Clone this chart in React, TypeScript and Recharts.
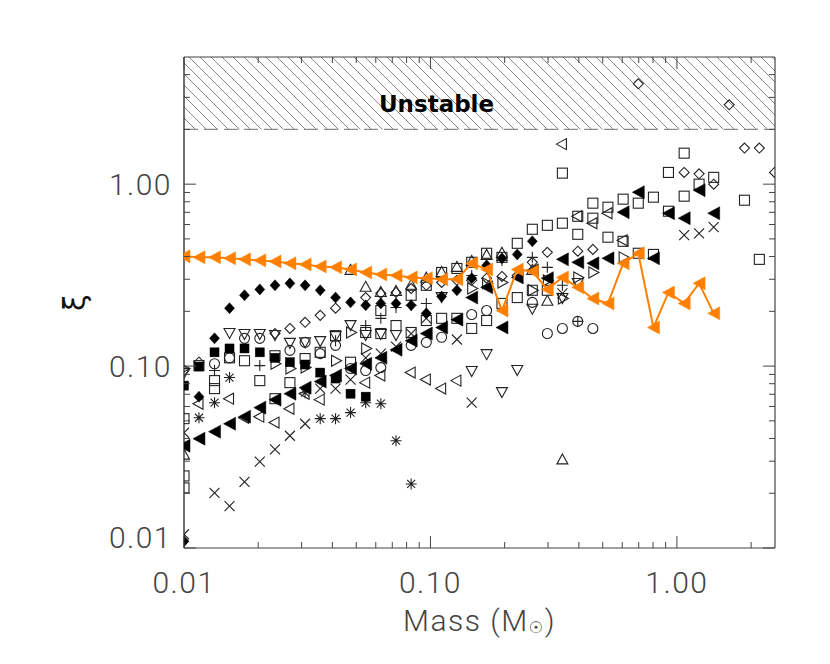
import React from 'react';
import { ScatterChart, Scatter, XAxis, YAxis, ReferenceArea, ReferenceLine, ReferenceDot } from 'recharts';

// ---------- axis ticks ----------
const xTicks = [0.01, 0.02, 0.03, 0.04, 0.05, 0.06, 0.07, 0.08, 0.09, 0.1, 0.2, 0.3, 0.4, 0.5, 0.6, 0.7, 0.8, 0.9, 1, 2];
const xMajorTicks = [0.01, 0.1, 1];
const xMajorLabels = ['0.01', '0.10', '1.00'];
const yTicks = [0.01, 0.02, 0.03, 0.04, 0.05, 0.06, 0.07, 0.08, 0.09, 0.1, 0.2, 0.3, 0.4, 0.5, 0.6, 0.7, 0.8, 0.9, 1, 2, 3, 4];
const yMajorTicks = [0.01, 0.1, 1];
const yMajorLabels = ['0.01', '0.10', '1.00'];

// ---------- data: [mass (Msun), xi] ----------
const orangeTri: number[][] = [
  [0.01, 0.401], [0.0115, 0.396], [0.0133, 0.396], [0.0153, 0.391], [0.0176, 0.386], [0.0203, 0.381],
  [0.0234, 0.376], [0.0269, 0.367], [0.031, 0.362], [0.0357, 0.353], [0.0412, 0.349], [0.0474, 0.34],
  [0.0546, 0.327], [0.0629, 0.319], [0.0725, 0.315], [0.0835, 0.307], [0.0962, 0.304], [0.111, 0.3],
  [0.128, 0.3], [0.147, 0.367], [0.169, 0.34], [0.195, 0.202], [0.225, 0.34], [0.259, 0.332],
  [0.298, 0.264], [0.343, 0.307], [0.396, 0.271], [0.456, 0.235], [0.525, 0.221], [0.605, 0.367],
  [0.697, 0.417], [0.803, 0.163], [0.924, 0.254], [1.07, 0.221], [1.23, 0.285], [1.41, 0.195],
];
const filledLeftTri: number[][] = [
  [0.01, 0.0365], [0.0115, 0.0399], [0.0133, 0.0436], [0.0153, 0.0482], [0.0176, 0.0527], [0.0203, 0.0591],
  [0.0234, 0.0654], [0.0269, 0.0705], [0.031, 0.0761], [0.0357, 0.0822], [0.0412, 0.0887], [0.0474, 0.0969],
  [0.0546, 0.103], [0.0629, 0.111], [0.0725, 0.123], [0.0835, 0.138], [0.0962, 0.151], [0.111, 0.163],
  [0.128, 0.18], [0.147, 0.238], [0.169, 0.271], [0.195, 0.163], [0.225, 0.307], [0.259, 0.336],
  [0.298, 0.304], [0.343, 0.386], [0.396, 0.372], [0.456, 0.367], [0.525, 0.391], [0.605, 0.701],
  [0.697, 0.903], [0.803, 0.391], [0.924, 0.692], [1.07, 0.65], [1.23, 0.927], [1.41, 0.692],
];
const filledDiamond: number[][] = [
  [0.01, 0.0109], [0.0115, 0.0679], [0.0133, 0.142], [0.0153, 0.208], [0.0176, 0.245], [0.0203, 0.264],
  [0.0234, 0.278], [0.0269, 0.285], [0.031, 0.278], [0.0357, 0.261], [0.0412, 0.238], [0.0474, 0.224],
  [0.0546, 0.216], [0.0629, 0.221], [0.0725, 0.221], [0.0835, 0.216], [0.0962, 0.195], [0.111, 0.241],
  [0.128, 0.261], [0.147, 0.304], [0.169, 0.358], [0.195, 0.391], [0.225, 0.411], [0.259, 0.485],
];
const openDiamond: number[][] = [
  [0.01, 0.0945], [0.0115, 0.105], [0.0234, 0.151], [0.0269, 0.161], [0.031, 0.174], [0.0357, 0.19],
  [0.0412, 0.208], [0.0546, 0.238], [0.0629, 0.251], [0.0725, 0.254], [0.0835, 0.267], [0.0962, 0.278],
  [0.111, 0.288], [0.128, 0.296], [0.147, 0.296], [0.169, 0.304], [0.195, 0.311], [0.225, 0.315],
  [0.259, 0.372], [0.298, 0.422], [0.396, 0.428], [0.456, 0.438], [0.697, 3.56], [1.07, 1.16],
  [1.23, 1.14], [1.41, 1.0], [1.63, 2.73], [1.88, 1.58], [2.16, 1.58], [2.49, 1.16],
];
const openSquare: number[][] = [
  [0.01, 0.0514], [0.01, 0.0249], [0.01, 0.0214], [0.0115, 0.1006], [0.0133, 0.0832], [0.0133, 0.0752],
  [0.0153, 0.111], [0.0176, 0.107], [0.0203, 0.0832], [0.0234, 0.114], [0.0234, 0.0662], [0.0269, 0.0811],
  [0.031, 0.11], [0.0357, 0.119], [0.0412, 0.147], [0.0474, 0.105], [0.0546, 0.153], [0.0629, 0.151],
  [0.0629, 0.202], [0.0725, 0.167], [0.0835, 0.153], [0.0835, 0.245], [0.0962, 0.178], [0.0962, 0.278],
  [0.111, 0.183], [0.111, 0.327], [0.128, 0.183], [0.128, 0.344], [0.147, 0.161], [0.147, 0.372],
  [0.169, 0.178], [0.169, 0.417], [0.195, 0.396], [0.195, 0.221], [0.225, 0.473], [0.225, 0.238],
  [0.259, 0.565], [0.259, 0.261], [0.298, 0.594], [0.298, 0.261], [0.343, 0.61], [0.343, 1.15],
  [0.396, 0.666], [0.396, 0.53], [0.456, 0.786], [0.456, 0.65], [0.525, 0.747], [0.525, 0.511],
  [0.605, 0.827], [0.605, 0.485], [0.697, 0.786], [0.697, 0.417], [0.803, 0.848], [0.803, 0.411],
  [0.924, 1.16], [0.924, 0.71], [1.07, 1.48], [1.07, 0.859], [1.23, 1.0], [1.41, 1.09],
  [1.88, 0.816], [2.16, 0.386],
];
const openTriUp: number[][] = [
  [0.01, 0.0324], [0.0474, 0.336], [0.0546, 0.271], [0.0629, 0.254], [0.0725, 0.257], [0.0835, 0.278],
  [0.0962, 0.304], [0.111, 0.327], [0.128, 0.349], [0.147, 0.376], [0.169, 0.406], [0.195, 0.417],
  [0.259, 0.336], [0.298, 0.227], [0.343, 0.0305],
];
const openTriDown: number[][] = [
  [0.01, 0.0921], [0.0153, 0.153], [0.0176, 0.151], [0.0203, 0.151], [0.0234, 0.149], [0.0269, 0.135],
  [0.031, 0.136], [0.0357, 0.138], [0.0412, 0.147], [0.0474, 0.169], [0.0546, 0.149], [0.0629, 0.151],
  [0.0725, 0.149], [0.111, 0.241], [0.147, 0.0945], [0.169, 0.117], [0.195, 0.0724], [0.225, 0.0957],
  [0.259, 0.208], [0.343, 0.238], [0.396, 0.288],
];
const openTriLeft: number[][] = [
  [0.0115, 0.0621], [0.0153, 0.0662], [0.0176, 0.052], [0.0203, 0.0527], [0.0234, 0.0489], [0.0269, 0.0583],
  [0.031, 0.0705], [0.0357, 0.0654], [0.0546, 0.0811], [0.0629, 0.0887], [0.0835, 0.0921], [0.0962, 0.0843],
  [0.111, 0.0752], [0.128, 0.0832], [0.343, 1.66], [0.396, 0.666], [0.456, 0.61], [0.525, 0.692], [0.605, 0.491],
];
const openTriRight: number[][] = [
  [0.01, 0.0969], [0.0234, 0.103], [0.0269, 0.0969], [0.031, 0.0981], [0.0412, 0.107], [0.0474, 0.153],
  [0.0546, 0.125], [0.147, 0.267], [0.169, 0.285], [0.195, 0.288], [0.259, 0.261], [0.298, 0.296],
  [0.343, 0.235], [0.396, 0.307], [0.456, 0.327], [0.605, 0.396],
];
const openCircle: number[][] = [
  [0.0133, 0.103], [0.0153, 0.111], [0.0176, 0.142], [0.0203, 0.142], [0.0269, 0.122], [0.031, 0.135],
  [0.0357, 0.117], [0.0412, 0.13], [0.0474, 0.0969], [0.0546, 0.0945], [0.0629, 0.0981], [0.0835, 0.13],
  [0.0962, 0.135], [0.111, 0.144], [0.147, 0.192], [0.169, 0.202], [0.259, 0.224], [0.298, 0.151],
  [0.343, 0.161], [0.396, 0.176], [0.456, 0.161],
];
const plusSign: number[][] = [
  [0.0133, 0.0945], [0.0203, 0.1006], [0.0412, 0.138], [0.0546, 0.167], [0.0629, 0.183], [0.0725, 0.21],
  [0.0835, 0.216], [0.0962, 0.221], [0.147, 0.315], [0.195, 0.381], [0.259, 0.396], [0.298, 0.349],
  [0.343, 0.278], [0.396, 0.176],
];
const crossSign: number[][] = [
  [0.01, 0.0119], [0.01, 0.043], [0.0133, 0.0201], [0.0153, 0.017], [0.0176, 0.0231], [0.0203, 0.0298],
  [0.0234, 0.0348], [0.0269, 0.0414], [0.031, 0.0482], [0.0357, 0.0752], [0.0412, 0.0752], [0.0474, 0.0843],
  [0.0546, 0.111], [0.0629, 0.117], [0.0725, 0.128], [0.0835, 0.151], [0.0962, 0.183], [0.128, 0.14],
  [0.147, 0.0629], [0.343, 0.251], [1.07, 0.524], [1.23, 0.537], [1.41, 0.58],
];
const asterisk: number[][] = [
  [0.0115, 0.052], [0.0133, 0.0629], [0.0153, 0.0865], [0.031, 0.0714], [0.0357, 0.0514], [0.0412, 0.0514],
  [0.0474, 0.0555], [0.0546, 0.0629], [0.0629, 0.0621], [0.0725, 0.0389], [0.0835, 0.0225],
];
const filledSquare: number[][] = [
  [0.01, 0.0781], [0.0115, 0.0994], [0.0133, 0.119], [0.0153, 0.125], [0.0176, 0.125], [0.0203, 0.119],
  [0.0234, 0.111], [0.0269, 0.105], [0.031, 0.102], [0.0357, 0.0921], [0.0412, 0.0854], [0.0474, 0.0705],
  [0.0546, 0.0679],
];

// ---------- styling ----------
const W = 830;
const H = 664;
// axes take 1px each; plot area spans x 184..775, y 57..548
const MARGIN = { top: 56, right: 54, bottom: 115, left: 183 };
const PLOT_BOTTOM = 548;
const FONT = '"DejaVu Sans", "Liberation Sans", sans-serif';
const THIN_FONT = 'Roboto, "DejaVu Sans", sans-serif';
const INK = '#222';
const AXIS = '#444';
const LABEL = '#444';
const ORANGE = '#ff8000';

const toPts = (a: number[][]) => a.map(([x, y]) => ({ x, y }));
const findMajor = (v: number, majors: number[]) => majors.findIndex((m) => Math.abs(m - v) < 1e-9);

type Kind = 'square' | 'fsquare' | 'diamond' | 'fdiamond' | 'tup' | 'tdown' | 'tleft' | 'tright' | 'ftleft' | 'orange' | 'circle' | 'plus' | 'cross' | 'star';

function Marker({ cx, cy, kind }: { cx: number; cy: number; kind: Kind }) {
  if (cx == null || cy == null || isNaN(cx) || isNaN(cy)) return null;
  const sw = 1.1;
  switch (kind) {
    case 'square':
      return <rect x={cx - 5} y={cy - 5} width={10} height={10} fill="none" stroke={INK} strokeWidth={sw} />;
    case 'fsquare':
      return <rect x={cx - 4.5} y={cy - 4.5} width={9} height={9} fill="#000" stroke="#000" strokeWidth={0.5} />;
    case 'diamond':
      return <polygon points={`${cx},${cy - 5} ${cx + 5},${cy} ${cx},${cy + 5} ${cx - 5},${cy}`} fill="none" stroke={INK} strokeWidth={sw} />;
    case 'fdiamond':
      return <polygon points={`${cx},${cy - 5.5} ${cx + 5},${cy} ${cx},${cy + 5.5} ${cx - 5},${cy}`} fill="#000" stroke="#000" strokeWidth={0.5} />;
    case 'tup':
      return <polygon points={`${cx},${cy - 6} ${cx + 5.5},${cy + 4} ${cx - 5.5},${cy + 4}`} fill="none" stroke={INK} strokeWidth={sw} />;
    case 'tdown':
      return <polygon points={`${cx},${cy + 6} ${cx + 5.5},${cy - 4} ${cx - 5.5},${cy - 4}`} fill="none" stroke={INK} strokeWidth={sw} />;
    case 'tleft':
      return <polygon points={`${cx - 6},${cy} ${cx + 4},${cy - 5.5} ${cx + 4},${cy + 5.5}`} fill="none" stroke={INK} strokeWidth={sw} />;
    case 'tright':
      return <polygon points={`${cx + 6},${cy} ${cx - 4},${cy - 5.5} ${cx - 4},${cy + 5.5}`} fill="none" stroke={INK} strokeWidth={sw} />;
    case 'ftleft':
      return <polygon points={`${cx - 6},${cy} ${cx + 6},${cy - 6.5} ${cx + 6},${cy + 6.5}`} fill="#000" stroke="#000" strokeWidth={0.5} />;
    case 'orange':
      return <polygon points={`${cx - 6},${cy} ${cx + 6},${cy - 6.5} ${cx + 6},${cy + 6.5}`} fill={ORANGE} stroke={ORANGE} strokeWidth={0.5} />;
    case 'circle':
      return <circle cx={cx} cy={cy} r={5} fill="none" stroke={INK} strokeWidth={sw} />;
    case 'plus':
      return (
        <path d={`M${cx - 5.5},${cy} L${cx + 5.5},${cy} M${cx},${cy - 5.5} L${cx},${cy + 5.5}`} stroke={INK} strokeWidth={sw} fill="none" />
      );
    case 'cross':
      return (
        <path d={`M${cx - 5},${cy - 5} L${cx + 5},${cy + 5} M${cx - 5},${cy + 5} L${cx + 5},${cy - 5}`} stroke={INK} strokeWidth={sw} fill="none" />
      );
    case 'star':
      return (
        <path
          d={`M${cx - 5.5},${cy} L${cx + 5.5},${cy} M${cx},${cy - 5.5} L${cx},${cy + 5.5} M${cx - 4},${cy - 4} L${cx + 4},${cy + 4} M${cx - 4},${cy + 4} L${cx + 4},${cy - 4}`}
          stroke={INK}
          strokeWidth={sw}
          fill="none"
        />
      );
    default:
      return null;
  }
}

const shapeOf = (kind: Kind) => (p: any) => <Marker cx={p.cx} cy={p.cy} kind={kind} />;

const labelStyle = {
  fontFamily: THIN_FONT,
  fontWeight: 300,
  fontSize: 30,
  letterSpacing: 1.5,
  fill: LABEL,
};

// ---------- ticks ----------
const BottomTick = (props: any) => {
  const { x, y, payload } = props;
  const i = findMajor(payload.value, xMajorTicks);
  const len = i >= 0 ? 12 : 6;
  return (
    <g>
      <line x1={x} y1={y} x2={x} y2={y - len} stroke={AXIS} strokeWidth={1} />
      {i >= 0 && (
        <text x={x} y={y + 34} textAnchor="middle" dominantBaseline="central" {...labelStyle}>
          {xMajorLabels[i]}
        </text>
      )}
    </g>
  );
};
const TopTick = (props: any) => {
  const { x, y, payload } = props;
  const i = findMajor(payload.value, xMajorTicks);
  const len = i >= 0 ? 12 : 6;
  return <line x1={x} y1={y} x2={x} y2={y + len} stroke={AXIS} strokeWidth={1} />;
};
const LeftTick = (props: any) => {
  const { x, y, payload } = props;
  const i = findMajor(payload.value, yMajorTicks);
  const len = i >= 0 ? 12 : 6;
  const ty = Math.min(y, PLOT_BOTTOM - 11);
  return (
    <g>
      <line x1={x} y1={y} x2={x + len} y2={y} stroke={AXIS} strokeWidth={1} />
      {i >= 0 && (
        <text x={x - 12} y={ty} textAnchor="end" dominantBaseline="central" {...labelStyle}>
          {yMajorLabels[i]}
        </text>
      )}
    </g>
  );
};
const RightTick = (props: any) => {
  const { x, y, payload } = props;
  const i = findMajor(payload.value, yMajorTicks);
  const len = i >= 0 ? 12 : 6;
  return <line x1={x} y1={y} x2={x - len} y2={y} stroke={AXIS} strokeWidth={1} />;
};

const XTitle = (props: any) => {
  const vb = props.viewBox || {};
  const cx = vb.width ? vb.x + vb.width / 2 : 479.5;
  const cy = PLOT_BOTTOM + 72;
  return (
    <text x={cx} y={cy} textAnchor="middle" dominantBaseline="central" {...labelStyle}>
      Mass (M
      <tspan fontFamily={FONT} fontWeight={400} fontSize={16} dy={7}>☉</tspan>
      <tspan dy={-7}>)</tspan>
    </text>
  );
};
const YTitle = (props: any) => {
  const vb = props.viewBox || {};
  const cx = 74;
  const cy = vb.height > 10 ? vb.y + vb.height / 2 : 302.5;
  return (
    <text x={cx} y={cy} transform={`rotate(-90 ${cx} ${cy})`} textAnchor="middle" dominantBaseline="central" fontFamily={FONT} fontSize={30} fill="#111">
      ξ
    </text>
  );
};

const UnstableText = (p: any) => (
  <text x={p.cx} y={p.cy} textAnchor="middle" dominantBaseline="central" fontFamily={FONT} fontWeight="bold" fontSize={23} fill="#000">
    Unstable
  </text>
);

const series: { name: string; data: number[][]; kind: Kind }[] = [
  { name: 'sq', data: openSquare, kind: 'square' },
  { name: 'di', data: openDiamond, kind: 'diamond' },
  { name: 'tu', data: openTriUp, kind: 'tup' },
  { name: 'td', data: openTriDown, kind: 'tdown' },
  { name: 'tl', data: openTriLeft, kind: 'tleft' },
  { name: 'tr', data: openTriRight, kind: 'tright' },
  { name: 'ci', data: openCircle, kind: 'circle' },
  { name: 'pl', data: plusSign, kind: 'plus' },
  { name: 'cr', data: crossSign, kind: 'cross' },
  { name: 'as', data: asterisk, kind: 'star' },
  { name: 'fs', data: filledSquare, kind: 'fsquare' },
  { name: 'fd', data: filledDiamond, kind: 'fdiamond' },
  { name: 'ft', data: filledLeftTri, kind: 'ftleft' },
];

export default function App() {
  return (
    <div style={{ position: 'absolute', left: 0, top: 0, width: W, height: H, background: '#fff' }}>
      <svg width={0} height={0} style={{ position: 'absolute' }}>
        <defs>
          <pattern id="hatch" patternUnits="userSpaceOnUse" width={11} height={11}>
            <path d="M0,0 L11,11 M-2,9 L2,13 M9,-2 L13,2" stroke="#8a8a8a" strokeWidth={1} fill="none" />
          </pattern>
        </defs>
      </svg>
      <ScatterChart width={W} height={H} margin={MARGIN}>
        <XAxis
          xAxisId={0}
          dataKey="x"
          type="number"
          scale="log"
          domain={[0.01, 2.5]}
          allowDataOverflow
          ticks={xTicks}
          interval={0}
          tickSize={0}
          tickMargin={0}
          tickLine={false}
          tick={<BottomTick />}
          height={1}
          axisLine={{ stroke: AXIS, strokeWidth: 1.2 }}
          label={<XTitle />}
        />
        <XAxis
          xAxisId="top"
          orientation="top"
          dataKey="x"
          type="number"
          scale="log"
          domain={[0.01, 2.5]}
          allowDataOverflow
          ticks={xTicks}
          interval={0}
          tickSize={0}
          tickMargin={0}
          tickLine={false}
          tick={<TopTick />}
          height={1}
          axisLine={{ stroke: AXIS, strokeWidth: 1.2 }}
        />
        <YAxis
          yAxisId={0}
          dataKey="y"
          type="number"
          scale="log"
          domain={[0.01, 5]}
          allowDataOverflow
          ticks={yTicks}
          interval={0}
          tickSize={0}
          tickMargin={0}
          tickLine={false}
          tick={<LeftTick />}
          width={1}
          axisLine={{ stroke: '#111', strokeWidth: 1.2 }}
          label={<YTitle />}
        />
        <YAxis
          yAxisId="right"
          orientation="right"
          dataKey="y"
          type="number"
          scale="log"
          domain={[0.01, 5]}
          allowDataOverflow
          ticks={yTicks}
          interval={0}
          tickSize={0}
          tickMargin={0}
          tickLine={false}
          tick={<RightTick />}
          width={1}
          axisLine={{ stroke: AXIS, strokeWidth: 1.2 }}
        />
        <ReferenceArea y1={2} y2={5} fill="url(#hatch)" fillOpacity={1} stroke="none" ifOverflow="hidden" />
        <ReferenceLine y={2} stroke="#8a8a8a" strokeWidth={1.2} strokeDasharray="14 6" />
        <ReferenceDot x={0.1058} y={2.76} r={0} shape={UnstableText} />
        {series.map((s) => (
          <Scatter key={s.name} name={s.name} data={toPts(s.data)} shape={shapeOf(s.kind)} isAnimationActive={false} />
        ))}
        <Scatter
          name="orange"
          data={toPts(orangeTri)}
          shape={shapeOf('orange')}
          line={{ stroke: ORANGE, strokeWidth: 2 }}
          lineType="joint"
          isAnimationActive={false}
        />
      </ScatterChart>
    </div>
  );
}
